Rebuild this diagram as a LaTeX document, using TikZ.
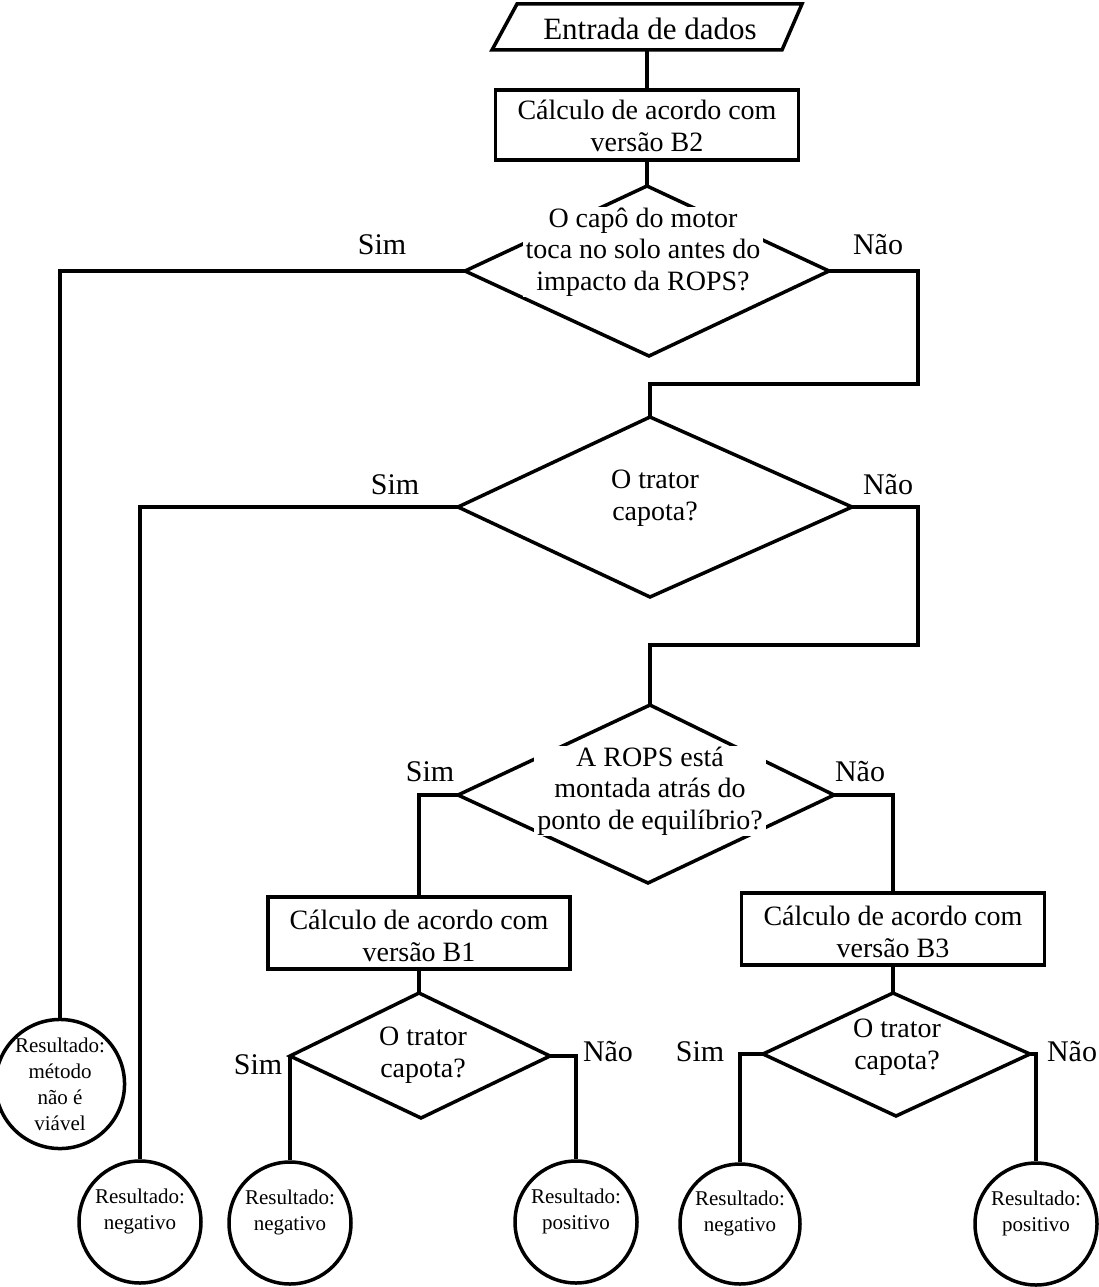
\documentclass[tikz,border=0pt]{standalone}
\usepackage{fontspec}
\setmainfont{Liberation Serif}
\newcommand\fmainsz{\fontsize{28}{31.5}\selectfont}
\newcommand\flblsz{\fontsize{30}{32}\selectfont}
\newcommand\finsz{\fontsize{31}{33}\selectfont}
\newcommand\fressz{\fontsize{21}{26}\selectfont}
\begin{document}
\begin{tikzpicture}[x=1pt,y=-1pt,line width=3.5pt,line join=miter,
  box/.style={draw,rectangle,line width=3.5pt,inner sep=0pt},
  btext/.style={align=center,inner sep=0pt,font=\fmainsz},
  qtext/.style={align=center,inner sep=0pt,font=\fmainsz},
  qmask/.style={qtext,fill=white,inner xsep=3pt,inner ysep=1pt},
  lbl/.style={inner sep=0pt,font=\flblsz},
  res/.style={draw,circle,line width=3.5pt,inner sep=0pt},
  restext/.style={align=center,inner sep=0pt,font=\fressz},
  conn/.style={line width=3.5pt}]
\useasboundingbox (0,0) rectangle (1099,1287);

% input parallelogram
\coordinate (i1) at (517,4);
\coordinate (i2) at (802,4);
\coordinate (i3) at (782,50);
\coordinate (i4) at (492,50);
\coordinate (inpb) at (647,50);
\draw (i1) -- (i2) -- (i3) -- (i4) -- cycle;
\node[inner sep=0pt,font=\finsz] (inp) at (650,29) {Entrada de dados};

% box B2
\node[box,minimum width=303,minimum height=70] (b2) at (647,125) {};
\node[btext] (b2t) at ([yshift=-1pt]b2.center) {Cálculo de acordo com\\versão B2};

% diamond 1
\coordinate (d1t) at (647,186);
\coordinate (d1r) at (829,271);
\coordinate (d1b) at (649,356);
\coordinate (d1l) at (465,271);
\draw (d1t) -- (d1r) -- (d1b) -- (d1l) -- cycle;
\node[qmask] (q1) at (643,252) {O capô do motor\\toca no solo antes do\\impacto da ROPS?};
\node[lbl] (s1) at (382,245) {Sim};
\node[lbl] (n1) at (878,245) {Não};

% diamond 2
\coordinate (d2t) at (650,417);
\coordinate (d2r) at (852,507);
\coordinate (d2b) at (650,597);
\coordinate (d2l) at (458,507);
\draw (d2t) -- (d2r) -- (d2b) -- (d2l) -- cycle;
\node[qtext] (q2) at (655,498) {O trator\\capota?};
\node[lbl] (s2) at (395,485) {Sim};
\node[lbl] (n2) at (888,485) {Não};

% diamond 3
\coordinate (d3t) at (650,705);
\coordinate (d3r) at (834,795);
\coordinate (d3b) at (648,883);
\coordinate (d3l) at (458,795);
\draw (d3t) -- (d3r) -- (d3b) -- (d3l) -- cycle;
\node[qmask] (q3) at (650,791) {A ROPS está\\montada atrás do\\ponto de equilíbrio?};
\node[lbl] (s3) at (430,772) {Sim};
\node[lbl] (n3) at (860,772) {Não};

% boxes B1, B3
\node[box,minimum width=302,minimum height=72] (b1) at (419,933) {};
\node[btext] (b1t) at ([yshift=-3pt]b1.center) {Cálculo de acordo com\\versão B1};
\node[box,minimum width=303,minimum height=72] (b3) at (893,929) {};
\node[btext] (b3t) at ([yshift=-3pt]b3.center) {Cálculo de acordo com\\versão B3};

% diamond 4
\coordinate (d4t) at (419,993);
\coordinate (d4r) at (550,1056);
\coordinate (d4b) at (421,1118);
\coordinate (d4l) at (290,1056);
\draw (d4t) -- (d4r) -- (d4b) -- (d4l) -- cycle;
\node[qmask] (q4) at (423,1055) {O trator\\capota?};
\node[lbl] (s4) at (258,1065) {Sim};
\node[lbl] (n4) at (608,1052) {Não};

% diamond 5
\coordinate (d5t) at (893,993);
\coordinate (d5r) at (1030,1054);
\coordinate (d5b) at (896,1116);
\coordinate (d5l) at (763,1054);
\draw (d5t) -- (d5r) -- (d5b) -- (d5l) -- cycle;
\node[qmask] (q5) at (897,1047) {O trator\\capota?};
\node[lbl] (s5) at (700,1052) {Sim};
\node[lbl] (n5) at (1072,1052) {Não};

% result circles
\node[res,minimum size=118,restext] (r1) at (60,1084) {Resultado:\\método\\não é\\viável};
\node[res,minimum size=122] (r2) at (140,1222) {};
\node[restext] (t2) at ([yshift=11pt]r2.center) {Resultado:\\negativo};
\node[res,minimum size=122] (r4) at (290,1223) {};
\node[restext] (t4) at ([yshift=11pt]r4.center) {Resultado:\\negativo};
\node[res,minimum size=122] (r5) at (576,1222) {};
\node[restext] (t5) at ([yshift=11pt]r5.center) {Resultado:\\positivo};
\node[res,minimum size=120] (r6) at (740,1224) {};
\node[restext] (t6) at ([yshift=11pt]r6.center) {Resultado:\\negativo};
\node[res,minimum size=122] (r7) at (1036,1224) {};
\node[restext] (t7) at ([yshift=11pt]r7.center) {Resultado:\\positivo};

% connectors
\coordinate (k1) at (918,384);
\coordinate (k2) at (918,645);
\draw[conn] (inpb) -- (b2.north);
\draw[conn] (b2.south) -- (d1t);
\draw[conn] (d1l) -| (r1.north);
\draw[conn] (d1r) -| (k1) -| (d2t);
\draw[conn] (d2l) -| (r2.north);
\draw[conn] (d2r) -| (k2) -| (d3t);
\draw[conn] (d3l) -| (b1.north);
\draw[conn] (d3r) -| (b3.north);
\draw[conn] (b1.south) -- (d4t);
\draw[conn] (b3.south) -- (d5t);
\draw[conn] (d4l) -- (r4.north);
\draw[conn] (d4r) -| (r5.north);
\draw[conn] (d5l) -| (r6.north);
\draw[conn] (d5r) -| (r7.north);
\end{tikzpicture}
\end{document}
